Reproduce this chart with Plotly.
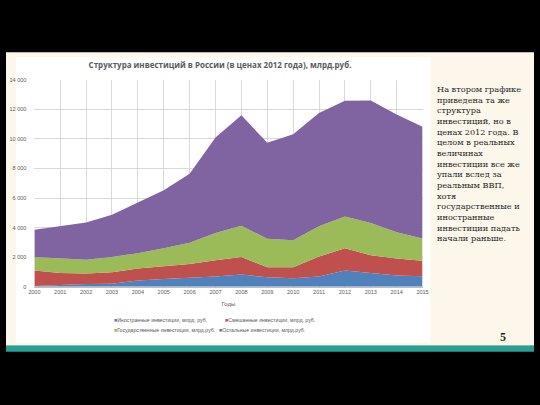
import plotly.graph_objects as go

W, H = 540, 405

years = list(range(2000, 2016))
foreign = [50, 130, 180, 200, 420, 530, 600, 690, 820, 640, 580, 690, 1090, 930, 760, 710]
mixed = [1040, 800, 710, 780, 820, 830, 930, 1110, 1200, 670, 730, 1350, 1510, 1200, 1150, 1050]
state = [930, 980, 930, 1040, 1030, 1240, 1450, 1840, 2110, 1930, 1840, 2050, 2160, 2180, 1780, 1510]
other = [1830, 2180, 2530, 2850, 3420, 3930, 4670, 6450, 7470, 6510, 7160, 7670, 7820, 8290, 7960, 7550]

series_names = [
    "Иностранные инвестиции, млрд. руб.",
    "Смешанные инвестиции, млрд. руб.",
    "Государственные инвестиции, млрд.руб.",
    "Остальные инвестиции, млрд.руб.",
]
series_values = [foreign, mixed, state, other]
colors = ["#4F81BD", "#C0504D", "#9BBB59", "#8064A2"]

title_text = "Структура инвестиций в России (в ценах 2012 года), млрд.руб."
x_title = "Годы"
y_ticks = [0, 2000, 4000, 6000, 8000, 10000, 12000, 14000]
y_ticktext = ["0", "2 000", "4 000", "6 000", "8 000", "10 000", "12 000", "14 000"]
side_text = [
    "На втором графике",
    "приведена та же",
    "структура",
    "инвестиций, но в",
    "ценах 2012 года. В",
    "целом в реальных",
    "величинах",
    "инвестиции все же",
    "упали вслед за",
    "реальным ВВП,",
    "хотя",
    "государственные и",
    "иностранные",
    "инвестиции падать",
    "начали раньше.",
]
page_number = "5"


def px(x):
    return x / W


def py(y):
    return 1 - y / H


fig = go.Figure()
for name, vals, col in zip(series_names, series_values, colors):
    fig.add_trace(go.Scatter(
        x=years, y=vals, name=name, stackgroup="one", mode="lines",
        line=dict(width=0, color=col), fillcolor=col, showlegend=False,
        hoverinfo="skip",
    ))

shapes = [
    # cream slide
    dict(type="rect", xref="paper", yref="paper", x0=0, x1=1, y0=py(348), y1=py(50),
         fillcolor="#FCF7EA", line_width=0, layer="below"),
    # white chart panel
    dict(type="rect", xref="paper", yref="paper", x0=px(10), x1=px(434), y0=py(345), y1=py(55),
         fillcolor="#FFFFFF", line_width=0, layer="below"),
    # teal band
    dict(type="rect", xref="paper", yref="paper", x0=0, x1=1, y0=py(354), y1=py(348),
         fillcolor="#26A193", line_width=0, layer="below"),
]

annotations = []
# legend as annotations
legend_pos = [(108, 322), (222, 322), (108, 332), (216, 332)]
for (lx, ly), name, col in zip(legend_pos, series_names, colors):
    annotations.append(dict(
        x=px(lx), y=py(ly), xref="paper", yref="paper", xanchor="left", yanchor="middle",
        showarrow=False, align="left",
        text=f"<span style='color:{col}'>■</span>{name}",
        font=dict(family="Liberation Sans", size=5.2, color="#595959"),
    ))

annotations.append(dict(
    x=px(439), y=py(80), xref="paper", yref="paper", xanchor="left", yanchor="top",
    showarrow=False, align="left", text="<br>".join(side_text),
    font=dict(family="DejaVu Serif", size=8.2, color="#262626"),
))
annotations.append(dict(
    x=px(508), y=py(339), xref="paper", yref="paper", xanchor="center", yanchor="middle",
    showarrow=False, text=f"<b>{page_number}</b>",
    font=dict(family="Liberation Serif", size=12, color="#262626"),
))

fig.update_layout(
    width=W, height=H,
    margin=dict(l=0, r=0, t=0, b=0),
    paper_bgcolor="#000000",
    plot_bgcolor="rgba(0,0,0,0)",
    showlegend=False,
    title=dict(text=f"<b>{title_text}</b>", x=px(220), xanchor="center",
               y=py(65), yanchor="middle",
               font=dict(family="Open Sans", size=8.0, color="#595959")),
    shapes=shapes,
    annotations=annotations,
    xaxis=dict(
        domain=[px(29), px(426)], range=[2000, 2015], tickmode="array", tickvals=years,
        showgrid=True, gridcolor="#D9D9D9", gridwidth=1, zeroline=False,
        showline=True, linecolor="#BFBFBF", linewidth=1, ticks="",
        tickfont=dict(family="Liberation Sans", size=5.5, color="#595959"),
        title=dict(text=x_title, font=dict(family="Liberation Sans", size=6, color="#595959"), standoff=7),
    ),
    yaxis=dict(
        domain=[py(288), py(78)], range=[0, 14000], tickmode="array",
        tickvals=y_ticks, ticktext=y_ticktext,
        showgrid=True, gridcolor="#D9D9D9", gridwidth=1, zeroline=False,
        showline=False, ticks="", ticklabelstandoff=7,
        tickfont=dict(family="Liberation Sans", size=5.5, color="#595959"),
    ),
)

fig.write_html("out.html", config={"displayModeBar": False},
               post_script="document.body.style.margin='0';")
